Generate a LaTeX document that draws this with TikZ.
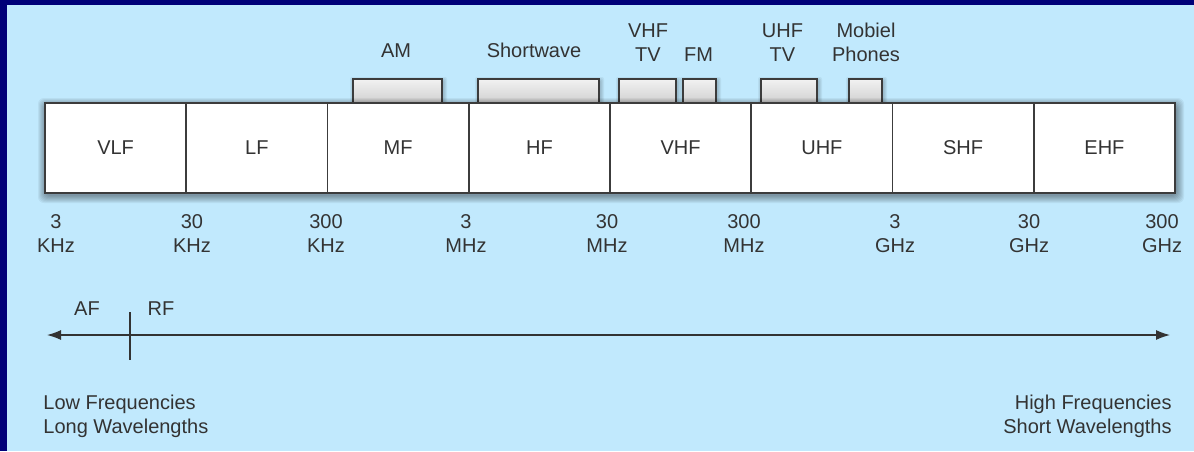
\documentclass[tikz,border=0pt]{standalone}
\usepackage{fontspec}
\setmainfont{Liberation Sans}
\usetikzlibrary{arrows.meta}
\definecolor{navyframe}{RGB}{0,0,120}
\definecolor{bgblue}{RGB}{193,233,253}
\definecolor{txt}{RGB}{51,51,51}
\definecolor{edge}{RGB}{60,60,60}
\definecolor{tabtop}{RGB}{242,242,242}
\definecolor{tabbot}{RGB}{205,205,205}
\begin{document}
\begin{tikzpicture}[x=0.5pt,y=-0.5pt,
  band/.style={draw=edge, line width=0.75pt, fill=white, minimum width=70.625pt,
    minimum height=45pt, inner sep=0pt, font=\fontsize{10}{12}\selectfont, text=txt},
  tabbox/.style={draw=edge, line width=0.75pt, top color=tabtop, bottom color=tabbot,
    minimum height=13pt, inner sep=0pt},
  lbl/.style={text=txt, font=\fontsize{10}{12}\selectfont, align=center, inner sep=0pt, anchor=north},
  conn/.style={draw=txt, line width=0.6pt},
]
% frame and background
\fill[navyframe] (0,0) rectangle (1194,451);
\fill[bgblue] (7,5) rectangle (1194,451);
\useasboundingbox (0,0) rectangle (1194,451);

% tab shadows
\foreach \a/\b in {353/442,478/599,619/676,683/716,761/817,849/882}{
  \foreach \r in {1,...,4}{
    \fill[black,opacity=0.05,rounded corners=1pt] (\a+1-\r,81-\r) rectangle (\b+1+\r,104);
  }
}
% tabs
\node[tabbox, minimum width=44.5pt] (tam) at (397.5,92) {};
\node[tabbox, minimum width=60.5pt] (tsw) at (538.5,92) {};
\node[tabbox, minimum width=28.5pt] (tvhftv) at (647.5,92) {};
\node[tabbox, minimum width=16.5pt] (tfm) at (699.5,92) {};
\node[tabbox, minimum width=28pt] (tuhftv) at (789,92) {};
\node[tabbox, minimum width=16.5pt] (tmob) at (865.5,92) {};

% bar shadow
\foreach \r in {1,...,8}{
  \fill[black,opacity=0.05,rounded corners=3pt] (46-\r,106-\r) rectangle (1176+\r,195+\r);
}

% bands
\node[band] (vlf) at (115.6,148) {VLF};
\node[band] (lf)  at (256.9,148) {LF};
\node[band] (mf)  at (398.1,148) {MF};
\node[band] (hf)  at (539.4,148) {HF};
\node[band] (vhf) at (680.6,148) {VHF};
\node[band] (uhf) at (821.9,148) {UHF};
\node[band] (shf) at (963.1,148) {SHF};
\node[band] (ehf) at (1104.4,148) {EHF};

% top labels
\node[lbl] (lam) at (396,43) {AM};
\node[lbl] (lsw) at (534,43) {Shortwave};
\node[lbl] (lvhftv) at (648,23) {VHF\\TV};
\node[lbl] (lfm) at (698.5,47) {FM};
\node[lbl] (luhftv) at (782.5,23) {UHF\\TV};
\node[lbl] (lmob) at (866,23) {Mobiel\\Phones};

% frequency labels
\node[lbl] (f1) at (56,214) {3\\KHz};
\node[lbl] (f2) at (192,214) {30\\KHz};
\node[lbl] (f3) at (326,214) {300\\KHz};
\node[lbl] (f4) at (466,214) {3\\MHz};
\node[lbl] (f5) at (607,214) {30\\MHz};
\node[lbl] (f6) at (744,214) {300\\MHz};
\node[lbl] (f7) at (895,214) {3\\GHz};
\node[lbl] (f8) at (1029,214) {30\\GHz};
\node[lbl] (f9) at (1162,214) {300\\GHz};

% AF / RF
\node[lbl] (af) at (87,301) {AF};
\node[lbl] (rf) at (161,301) {RF};

% arrow and divider
\coordinate (aL) at (47,335);
\coordinate (aR) at (1170,335);
\draw[conn, {Latex[length=7pt,width=5pt]}-{Latex[length=7pt,width=5pt]}] (aL) -- (aR);
\coordinate (t1) at (130,312);
\coordinate (t2) at (130,360);
\draw[conn] (t1) -- (t2);

% bottom texts
\node[lbl, anchor=north west, align=left] (low) at (43,395) {Low Frequencies\\Long Wavelengths};
\node[lbl, anchor=north east, align=right] (high) at (1172,395) {High Frequencies\\Short Wavelengths};
\end{tikzpicture}
\end{document}
